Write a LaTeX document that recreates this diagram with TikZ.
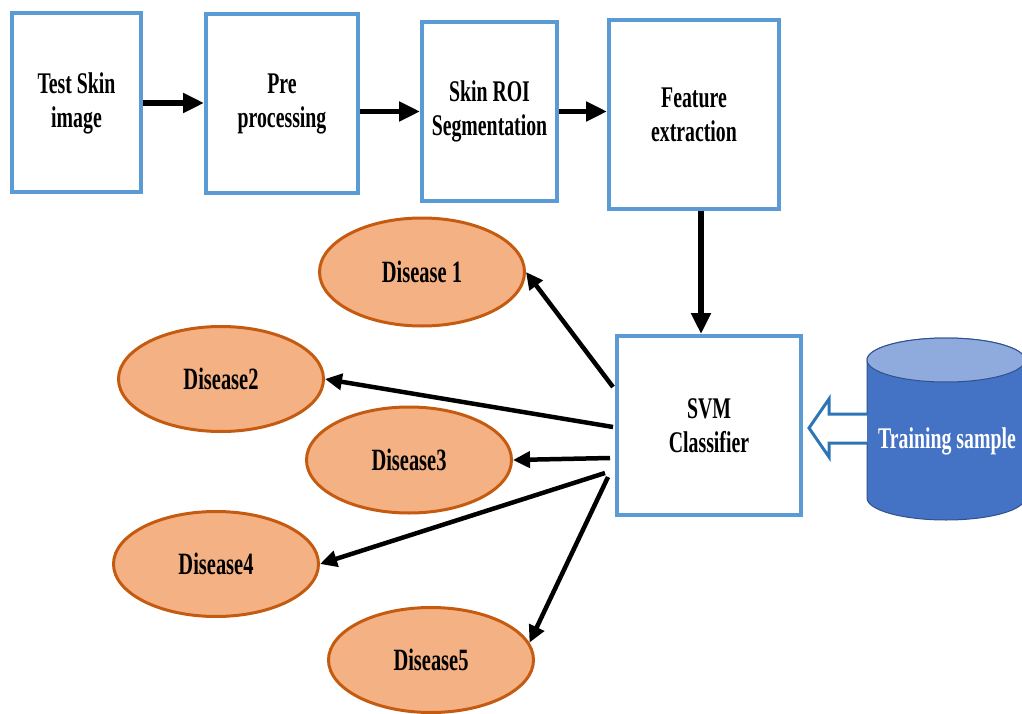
\documentclass[tikz,border=0pt]{standalone}
\usepackage{fontspec}
\setmainfont{Liberation Serif}[FakeStretch=0.66]
\usetikzlibrary{arrows.meta,calc,shapes.geometric}
\definecolor{boxblue}{HTML}{5B9BD5}
\definecolor{ellfill}{HTML}{F4B183}
\definecolor{elldraw}{HTML}{C55A11}
\definecolor{cylfill}{HTML}{4472C4}
\definecolor{cyltop}{HTML}{8FAADC}
\definecolor{cylline}{HTML}{2F528F}
\definecolor{hollowblue}{HTML}{2E75B6}
\tikzset{
  stepbox/.style={draw=boxblue, line width=4pt, fill=white, align=center,
    font=\fontsize{30}{34}\selectfont\bfseries, inner sep=0pt},
  disease/.style={ellipse, draw=elldraw, fill=ellfill, line width=3pt,
    minimum width=205pt, minimum height=106pt, inner sep=0pt,
    font=\fontsize{31}{34}\selectfont\bfseries},
  toparrow/.style={line width=5.5pt, -{Triangle[length=21pt,width=19pt]}},
  outarrow/.style={line width=4.5pt, -{Triangle[length=17pt,width=16pt]}},
  hollow/.style={draw=hollowblue, line width=3pt, fill=white, line join=miter}
}
\begin{document}
\begin{tikzpicture}[x=1pt,y=-1pt]
\useasboundingbox (0,0) rectangle (1022,714);
\clip (0,0) rectangle (1022,714);
% top row
\node[stepbox, minimum width=129pt, minimum height=179pt] (b1) at (76.5,103) {Test Skin\\image};
\node[stepbox, minimum width=152pt, minimum height=179pt] (b2) at (282,103.5) {Pre\\processing};
\node[stepbox, minimum width=135pt, minimum height=179pt] (b3) at (489.5,111.5) {Skin ROI\\Segmentation};
\node[stepbox, minimum width=170pt, minimum height=189pt] (b4) at (694,114.5) {Feature\\extraction};
\node[stepbox, minimum width=184pt, minimum height=179pt] (svm) at (709,425.5) {SVM\\Classifier};
% diseases
\node[disease, minimum height=108pt] (d1) at (422,272) {Disease 1};
\node[disease, minimum height=105pt] (d2) at (221,379) {Disease2};
\node[disease] (d3) at (409,460) {Disease3};
\node[disease, minimum height=105pt] (d4) at (216,564) {Disease4};
\node[disease, minimum height=105pt] (d5) at (431,660) {Disease5};
% cylinder
\fill[cylfill, draw=cylline, line width=1pt] (867,360) -- (867,498)
  arc[start angle=180, end angle=0, x radius=79, y radius=22]
  -- (1025,360) arc[start angle=0, end angle=-180, x radius=79, y radius=22] -- cycle;
\draw[fill=cyltop, draw=cylline, line width=1pt] (946,360) ellipse[x radius=79, y radius=22];
\node[text=white, font=\fontsize{30}{34}\selectfont\bfseries, inner sep=0pt] (train) at (947,441) {Training sample};
% top arrows
\draw[toparrow] (b1.east) -- (b2.west |- b1.east);
\draw[toparrow] (b3.west -| b2.east) -- (b3.west);
\draw[toparrow] (b3.east) -- (b4.west |- b3.east);
\draw[toparrow] ($(b4.south)+(7,0)$) -- ($(svm.north)+(-8,0)$);
% classifier outputs
\draw[outarrow] ($(svm.west)+(-2,-38.5)$) -- (d1.east);
\draw[outarrow] ($(svm.west)+(-2,1.5)$) -- (d2.east);
\draw[outarrow] ($(svm.west)+(-5,32.5)$) -- (d3.east);
\draw[outarrow] ($(svm.west)+(-10,47.5)$) -- (d4.east);
\draw[outarrow] ($(svm.west)+(-7,51.5)$) -- (d5.10);
% hollow arrow from training sample
\coordinate (tip) at ($(svm.east)+(6,2.5)$);
\draw[hollow] (867,414) -- (829,414) -- (829,399) -- (tip) -- (829,457) -- (829,443) -- (867,443);
\end{tikzpicture}
\end{document}
